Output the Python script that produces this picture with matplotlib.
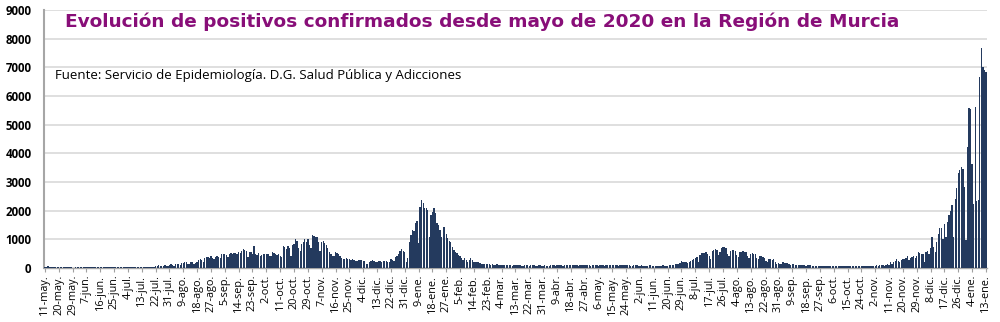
import matplotlib
matplotlib.use("Agg")
import matplotlib.pyplot as plt
import numpy as np

# Daily confirmed positives, starting 11 May 2020 (one value per day)
values = [
    45, 38, 52, 40, 35, 48, 42, 30, 25,
    38, 42, 35, 40, 30, 28, 33, 25, 20,
    5, 8, 30, 25, 28, 22, 30, 26, 20,
    15, 20, 25, 18, 22, 28, 24, 20, 25,
    22, 25, 30, 28, 25, 20, 30, 27, 24,
    28, 25, 30, 32, 26, 30, 35, 28, 30,
    30, 32, 28, 35, 33, 30, 36, 32, 38,
    35, 40, 38, 42, 36, 40, 45, 40, 42,
    70, 60, 85, 75, 55, 50, 90, 80, 60,
    90, 120, 100, 70, 140, 130, 150, 110, 160,
    180, 200, 190, 120, 140, 210, 200, 150, 160,
    200, 280, 300, 260, 220, 330, 380, 370, 340,
    400, 360, 300, 380, 420, 390, 350, 480, 500,
    470, 450, 380, 500, 520, 480, 510, 530, 490,
    550, 520, 580, 650, 620, 600, 380, 560, 540,
    500, 750, 480, 460, 520, 400, 450, 470, 480,
    490, 500, 430, 400, 550, 520, 480, 450, 500,
    420, 380, 780, 720, 650, 750, 700, 420, 800,
    850, 1000, 950, 700, 600, 820, 900, 1000, 920,
    1020, 800, 700, 1150, 1100, 1080, 1070, 900, 600,
    900, 950, 880, 800, 700, 550, 500, 420, 400,
    550, 520, 480, 430, 350, 300, 320, 340, 300,
    300, 280, 310, 290, 250, 230, 260, 280, 270,
    250, 230, 120, 150, 200, 250, 260, 230, 200,
    220, 250, 240, 200, 230, 250, 240, 200, 190,
    300, 280, 250, 380, 420, 500, 600, 650, 580,
    550, 220, 340, 920, 1150, 1330, 1300, 1560, 1650,
    860, 2140, 2370, 2250, 2080, 2080, 2020, 1090, 1850,
    1950, 2080, 1900, 1560, 1500, 1330, 1090, 1440, 1440,
    1200, 1030, 950, 920, 740, 630, 570, 510, 450,
    400, 340, 280, 340, 280, 220, 260, 340, 280,
    200, 210, 190, 200, 180, 140, 150, 140, 130,
    140, 120, 110, 130, 100, 110, 120, 100, 90,
    95, 110, 100, 85, 90, 105, 95, 80, 90,
    85, 95, 100, 90, 80, 75, 90, 95, 85,
    80, 90, 85, 95, 75, 70, 85, 90, 80,
    75, 85, 70, 60, 80, 95, 90, 85, 80,
    90, 100, 95, 85, 80, 95, 110, 100, 90,
    85, 95, 100, 110, 90, 80, 95, 105, 95,
    90, 100, 95, 85, 80, 90, 100, 95, 85,
    80, 90, 95, 85, 75, 90, 100, 110, 95,
    90, 85, 100, 95, 80, 90, 105, 100, 90,
    85, 95, 90, 80, 75, 85, 90, 95, 80,
    75, 85, 80, 70, 65, 80, 85, 90, 75,
    70, 80, 75, 65, 70, 80, 85, 75, 70,
    80, 90, 85, 100, 110, 120, 130, 150, 170,
    230, 210, 200, 190, 160, 200, 250, 280, 300,
    340, 380, 200, 450, 510, 520, 530, 550, 500,
    400, 300, 600, 640, 650, 610, 450, 550, 680,
    720, 730, 700, 500, 420, 600, 620, 610, 590,
    450, 380, 540, 570, 580, 560, 540, 400, 350,
    500, 510, 490, 480, 350, 300, 420, 400, 380,
    350, 250, 200, 300, 310, 280, 300, 200, 150,
    180, 150, 130, 190, 180, 170, 160, 120, 100,
    120, 130, 110, 100, 90, 95, 110, 100, 90,
    80, 90, 100, 85, 80, 70, 75, 80, 70,
    60, 70, 75, 65, 60, 55, 70, 65, 60,
    55, 65, 70, 60, 55, 50, 60, 65, 55,
    60, 65, 70, 60, 55, 70, 65, 60, 55,
    60, 65, 70, 75, 60, 55, 70, 75, 65,
    80, 90, 70, 85, 100, 95, 80, 110, 120,
    100, 220, 150, 200, 250, 300, 230, 200, 280,
    300, 320, 350, 400, 280, 340, 380, 400, 350,
    400, 570, 530, 500, 470, 200, 550, 600, 480,
    690, 1070, 740, 570, 920, 1200, 1380, 1400, 1000,
    1530, 1090, 1600, 1850, 1970, 2190, 1070, 2400, 2780,
    3300, 3400, 3530, 3450, 2810, 980, 4230, 5580, 5550,
    3640, 2220, 5600, 2330, 2370, 6670, 7690, 7000, 6900,
    6840,
]

tick_labels = [
    "11-may.", "20-may.", "29-may.", "7-jun.", "16-jun.", "25-jun.", "4-jul.",
    "13-jul.", "22-jul.", "31-jul.", "9-ago.", "18-ago.", "27-ago.", "5-sep.",
    "14-sep.", "23-sep.", "2-oct.", "11-oct.", "20-oct.", "29-oct.", "7-nov.",
    "16-nov.", "25-nov.", "4-dic.", "13-dic.", "22-dic.", "31-dic.", "9-ene.",
    "18-ene.", "27-ene.", "5-feb.", "14-feb.", "23-feb.", "4-mar.", "13-mar.",
    "22-mar.", "31-mar.", "9-abr.", "18-abr.", "27-abr.", "6-may.", "15-may.",
    "24-may.", "2-jun.", "11-jun.", "20-jun.", "29-jun.", "8-jul.", "17-jul.",
    "26-jul.", "4-ago.", "13-ago.", "22-ago.", "31-ago.", "9-sep.", "18-sep.",
    "27-sep.", "6-oct.", "15-oct.", "24-oct.", "2-nov.", "11-nov.", "20-nov.",
    "29-nov.", "8-dic.", "17-dic.", "26-dic.", "4-ene.", "13-ene.",
]
tick_step = 9

title = "Evolución de positivos confirmados desde mayo de 2020 en la Región de Murcia"
source = "Fuente: Servicio de Epidemiología. D.G. Salud Pública y Adicciones"

fig = plt.figure(figsize=(10, 3.22), dpi=100)
ax = fig.add_axes([0.044, 0.168, 0.943, 0.801])

x = np.arange(len(values))
ax.bar(x, values, width=0.85, color="#243A5E", edgecolor="none", zorder=3)

ax.set_xlim(-0.6, len(values) - 0.3)
ax.set_ylim(0, 9000)
ax.set_yticks(np.arange(0, 9001, 1000))
ax.yaxis.grid(True, color="#D9D9D9", linewidth=1.2, zorder=0)
ax.set_axisbelow(True)

ax.set_xticks(np.arange(0, len(tick_labels) * tick_step, tick_step))
ax.set_xticklabels(tick_labels, rotation=90, fontsize=7.8, family="Open Sans")
ax.tick_params(axis="x", length=3, color="#A0A0A0", pad=2)
ax.tick_params(axis="y", length=0, pad=9, labelsize=8.3)
for lab in ax.get_yticklabels():
    lab.set_fontweight("bold")
    lab.set_family("Open Sans")

for side in ("top", "right"):
    ax.spines[side].set_visible(False)
ax.spines["left"].set_color("#A6A6A6")
ax.spines["left"].set_linewidth(1.5)
ax.spines["bottom"].set_color("#A6A6A6")
ax.spines["bottom"].set_linewidth(1.0)

fig.text(0.482, 0.932, title, ha="center", va="center", fontsize=13.3,
         fontweight="bold", color="#880E78", family="DejaVu Sans")
fig.text(0.055, 0.765, source, ha="left", va="center", fontsize=9.5,
         color="black", family="Open Sans")

fig.savefig("out.png", dpi=100)
